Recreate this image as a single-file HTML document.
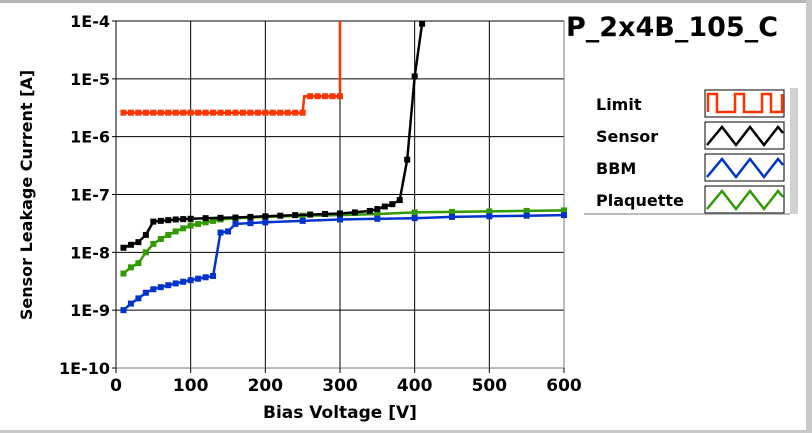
<!DOCTYPE html>
<html><head><meta charset="utf-8"><style>
body{margin:0;background:#fff;}
svg{display:block;font-family:"DejaVu Sans","Liberation Sans",sans-serif;font-weight:bold;}
</style></head><body>
<svg id="c" width="812" height="433" viewBox="0 0 812 433">
<rect x="0" y="0" width="812" height="433" fill="#fff"/>
<rect x="0" y="0" width="812" height="3" fill="#b4b4b4"/>
<rect x="806" y="0" width="6" height="433" fill="#c8c8c8"/>
<rect x="0" y="430" width="812" height="3" fill="#c8c8c8"/>
<g id="grid"></g>
<g id="ticks"></g>
<g id="series"></g>
<text x="32" y="195" transform="rotate(-90 32 195)" text-anchor="middle" font-size="16">Sensor Leakage Current [A]</text>
<text x="340" y="418" text-anchor="middle" font-size="17">Bias Voltage [V]</text>
<text x="566" y="36" font-size="27">P_2x4B_105_C</text>
<g>
<rect x="584" y="86" width="206" height="128" fill="#fff"/>
<rect x="790" y="88" width="8" height="126" fill="#d0d0d0"/>
<rect x="584" y="213" width="206" height="2" fill="#bbb"/>
<g id="legend"></g>
</g>
</svg>
<script>
const xTicks=[0,100,200,300,400,500,600];
const yTickExp=[-4,-5,-6,-7,-8,-9,-10];
const limitV=[10,20,30,40,50,60,70,80,90,100,110,120,130,140,150,160,170,180,190,200,210,220,230,240,250,252,260,270,280,290,300,300];
const limitI=[2.6e-6,2.6e-6,2.6e-6,2.6e-6,2.6e-6,2.6e-6,2.6e-6,2.6e-6,2.6e-6,2.6e-6,2.6e-6,2.6e-6,2.6e-6,2.6e-6,2.6e-6,2.6e-6,2.6e-6,2.6e-6,2.6e-6,2.6e-6,2.6e-6,2.6e-6,2.6e-6,2.6e-6,2.6e-6,5e-6,5e-6,5e-6,5e-6,5e-6,5e-6,1e-4];
const sensorV=[10,20,30,40,50,60,70,80,90,100,120,140,160,180,200,220,240,260,280,300,320,340,350,360,370,380,390,400,410];
const sensorI=[1.2e-8,1.35e-8,1.5e-8,2e-8,3.4e-8,3.5e-8,3.6e-8,3.7e-8,3.75e-8,3.8e-8,3.9e-8,3.95e-8,4e-8,4.1e-8,4.2e-8,4.3e-8,4.4e-8,4.5e-8,4.6e-8,4.7e-8,4.9e-8,5.2e-8,5.6e-8,6.2e-8,6.8e-8,8e-8,4e-7,1.1e-5,9e-5];
const bbmV=[10,20,30,40,50,60,70,80,90,100,110,120,130,140,150,160,180,200,250,300,350,400,450,500,550,600];
const bbmI=[1e-9,1.3e-9,1.6e-9,2e-9,2.3e-9,2.5e-9,2.7e-9,2.9e-9,3.1e-9,3.3e-9,3.5e-9,3.7e-9,3.9e-9,2.2e-8,2.3e-8,3.1e-8,3.2e-8,3.3e-8,3.5e-8,3.7e-8,3.8e-8,3.9e-8,4.1e-8,4.2e-8,4.3e-8,4.4e-8];
const plaqV=[10,20,30,40,50,60,70,80,90,100,110,120,130,140,160,180,200,250,300,350,400,450,500,550,600];
const plaqI=[4.3e-9,5.5e-9,6.5e-9,1e-8,1.4e-8,1.7e-8,2e-8,2.3e-8,2.6e-8,2.9e-8,3.1e-8,3.3e-8,3.5e-8,3.7e-8,3.9e-8,4e-8,4.1e-8,4.3e-8,4.4e-8,4.6e-8,4.9e-8,5e-8,5.1e-8,5.2e-8,5.3e-8];
const legendNames=["Limit","Sensor","BBM","Plaquette"];
const colors=["#ff3300","#000000","#0033cc","#339900"];

const NS="http://www.w3.org/2000/svg";
const X0=116,X1=564,Y0=21,Y1=368;
function xs(v){return X0+(v-0)/(600-0)*(X1-X0);}
function ys(i){const e=Math.log10(i);return Y0+(-4-e)/6*(Y1-Y0);}
function mk(tag,attrs,parent){const el=document.createElementNS(NS,tag);for(const k in attrs)el.setAttribute(k,attrs[k]);parent.appendChild(el);return el;}
const grid=document.getElementById('grid'),ticks=document.getElementById('ticks'),ser=document.getElementById('series');
xTicks.forEach(v=>{
 const x=xs(v);
 if(v>0&&v<600){const l=mk('line',{x1:x,y1:Y0,x2:x,y2:Y1,stroke:'#000','stroke-width':1},grid);
 
 }
 const t=mk('line',{x1:x,y1:Y1,x2:x,y2:Y1+5,stroke:'#000'},ticks);
 
 
 const tx=mk('text',{x:x,y:Y1+23,'text-anchor':'middle','font-size':17},ticks);
 tx.textContent=v;
 
 
});
yTickExp.forEach(e=>{
 const y=ys(Math.pow(10,e));
 if(e>-10&&e<-4){const l=mk('line',{x1:X0,y1:y,x2:X1,y2:y,stroke:'#000','stroke-width':1},grid);
 
 }
 const t=mk('line',{x1:X0-4,y1:y,x2:X0,y2:y,stroke:'#000'},ticks);
 
 
 const tx=mk('text',{x:X0-6,y:y+6,'text-anchor':'end','font-size':16},ticks);
 tx.textContent='1E'+e;
 
 
});
const borderTop=mk('line',{x1:X0,y1:Y0,x2:X1,y2:Y0,stroke:'#000'},grid);


const borderLeft=mk('line',{x1:X0,y1:Y0,x2:X0,y2:Y1,stroke:'#000'},grid);


const borderBottom=mk('line',{x1:X0,y1:Y1,x2:X1,y2:Y1,stroke:'#777'},grid);


const borderRight=mk('line',{x1:X1,y1:Y0,x2:X1,y2:Y1,stroke:'#777'},grid);



function clipY(y){return Math.max(Y0,Math.min(Y1,y));}
function drawSeries(V,I,color,name,marks){
 const pts=V.map((v,k)=>xs(v).toFixed(1)+','+clipY(ys(I[k])).toFixed(1)).join(' ');
 const pl=mk('polyline',{points:pts,fill:'none',stroke:color,'stroke-width':2.5},ser);
 
 
 V.forEach((v,k)=>{
  if(!marks(k))return;
  const y=ys(I[k]); if(y<Y0-1)return;
  const r=mk('rect',{x:xs(v)-3,y:y-3,width:6,height:6,fill:color},ser);
  
  
 });
}
drawSeries(plaqV,plaqI,colors[3],'plaquette',()=>true);
drawSeries(bbmV,bbmI,colors[2],'bbm',()=>true);
drawSeries(sensorV,sensorI,colors[1],'sensor',()=>true);
drawSeries(limitV,limitI,colors[0],'limit',k=>limitV[k]%10===0&&limitI[k]<1e-4);

const lg=document.getElementById('legend');
legendNames.forEach((n,k)=>{
 const y=104+k*32;
 const t=mk('text',{x:596,y:y+6,'font-size':16},lg);
 t.textContent=n;
 
 
 const b=mk('rect',{x:705,y:y-14,width:79,height:27,fill:'#fff',stroke:'#000','stroke-width':1},lg);
 
 
 let p;
 if(k===0){p='708,'+(y+8)+' 708,'+(y-10)+' 717,'+(y-10)+' 717,'+(y+8)+' 735,'+(y+8)+' 735,'+(y-10)+' 744,'+(y-10)+' 744,'+(y+8)+' 762,'+(y+8)+' 762,'+(y-10)+' 771,'+(y-10)+' 771,'+(y+8)+' 782,'+(y+8)+' 782,'+(y-10);}
 else{p='707,'+(y+9)+' 722,'+(y-9)+' 736,'+(y+9)+' 750,'+(y-9)+' 764,'+(y+9)+' 778,'+(y-9)+' 783,'+(y-3);}
 const l=mk('polyline',{points:p,fill:'none',stroke:colors[k],'stroke-width':2.5},lg);
 
 
});
</script>
</body></html>
